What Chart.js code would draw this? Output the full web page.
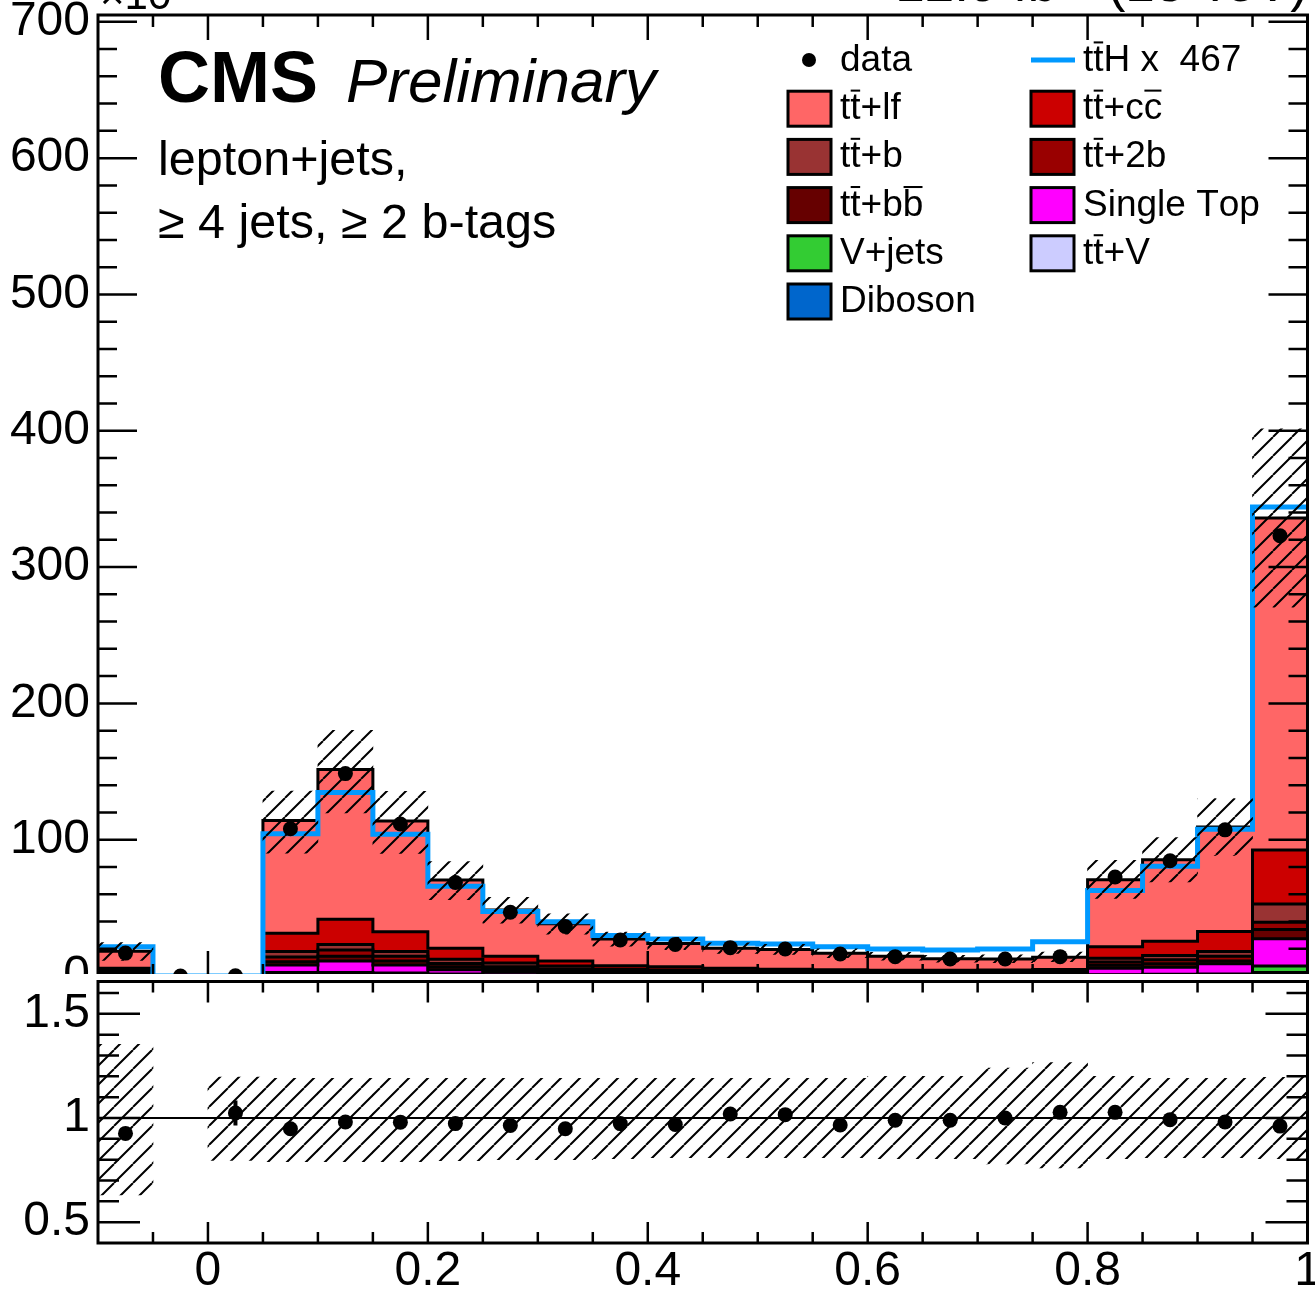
<!DOCTYPE html>
<html>
<head>
<meta charset="utf-8">
<title>CMS Preliminary - lepton+jets, 4 jets, 2 b-tags</title>
<script src="https://cdn.jsdelivr.net/npm/chart.js@4.4.1/dist/chart.umd.min.js"></script>
<style>
  html, body { margin: 0; padding: 0; background: #fff; }
  #wrap { position: relative; width: 1315px; height: 1294px; overflow: hidden; background: #fff; }
  #mainBox { position: absolute; left: 0; top: 0; width: 1315px; height: 992px; }
  #ratioBox { position: absolute; left: 0; top: 974px; width: 1315px; height: 320px; background: #fff; }
  canvas { display: block; }
</style>
</head>
<body>
<div id="wrap">
  <div id="mainBox"><canvas id="main" width="1315" height="992"></canvas></div>
  <div id="ratioBox"><canvas id="ratio" width="1315" height="320"></canvas></div>
</div>
<script>
/* ---- binning (discriminant output, 22 bins of 0.05) ---- */
var binEdges = [-0.1, -0.05, 0, 0.05, 0.1, 0.15, 0.2, 0.25, 0.3, 0.35, 0.4, 0.45,
                0.5, 0.55, 0.6, 0.65, 0.7, 0.75, 0.8, 0.85, 0.9, 0.95, 1.0];
var binCenters = [-0.075, -0.025, 0.025, 0.075, 0.125, 0.175, 0.225, 0.275, 0.325, 0.375, 0.425,
                  0.475, 0.525, 0.575, 0.625, 0.675, 0.725, 0.775, 0.825, 0.875, 0.925, 0.975];

/* ---- stacked backgrounds, bottom to top (events, x10^3) ---- */
var diboson   = [0.2, 0, 0, 0.6, 0.6, 0.5, 0.3, 0.2, 0.2, 0.1, 0.1, 0.1, 0.1, 0.1, 0.1, 0.1, 0.1, 0.1, 0.2, 0.2, 0.3, 1.0];
var ttV       = [0.3, 0, 0, 0.9, 0.9, 0.7, 0.5, 0.3, 0.2, 0.2, 0.2, 0.2, 0.1, 0.1, 0.1, 0.1, 0.1, 0.1, 0.3, 0.4, 0.5, 1.5];
var vJets     = [0.5, 0, 0, 1.0, 1.1, 1.0, 0.6, 0.4, 0.3, 0.2, 0.2, 0.1, 0.2, 0.1, 0.1, 0.1, 0.1, 0.1, 0.5, 0.6, 0.7, 4.8];
var singleTop = [1.5, 0, 0, 5.6, 8.4, 5.9, 3.2, 2.1, 1.5, 1.1, 0.9, 0.8, 0.7, 0.7, 0.6, 0.6, 0.6, 0.7, 4.6, 5.2, 7.5, 20.1];
var ttbb      = [0.5, 0, 0, 2.4, 3.5, 2.9, 2.2, 1.8, 1.4, 1.0, 0.9, 0.8, 0.7, 0.6, 0.6, 0.6, 0.6, 0.6, 2.2, 2.6, 2.0, 6.8];
var tt2b      = [0.6, 0, 0, 3.5, 4.5, 3.5, 2.4, 2.0, 1.6, 1.0, 0.9, 0.8, 0.7, 0.6, 0.6, 0.6, 0.6, 0.7, 2.4, 3.0, 3.5, 5.2];
var ttb       = [0.8, 0, 0, 3.9, 4.2, 3.4, 3.0, 2.7, 2.1, 1.3, 1.2, 1.0, 0.9, 0.8, 0.8, 0.8, 0.8, 0.8, 2.8, 3.0, 3.5, 13.4];
var ttcc      = [1.2, 0, 0.05, 13.4, 18.4, 14.6, 8.1, 5.0, 3.7, 2.7, 2.4, 1.8, 1.6, 1.5, 1.4, 1.4, 1.5, 1.7, 8.5, 10.5, 14.6, 39.7];
var ttlf      = [12.5, 0, 0.15, 82.7, 109.9, 81.3, 50.2, 34.0, 27.3, 19.5, 17.1, 14.8, 14.5, 12.2, 10.1, 8.3, 8.1, 9.0, 49.2, 59.8, 76.7, 243.5];

/* ---- signal (scaled), data, MC uncertainty band ---- */
var ttH      = [21.5, 0, 0, 104.4, 134.6, 104.0, 65.8, 47.4, 39.8, 29.8, 27.1, 24.0, 23.5, 21.5, 19.8, 19.1, 19.8, 25.2, 62.8, 80.6, 107.7, 344.0];
var dataVals = [16.8, 0, 0.2, 108.0, 148.5, 111.5, 68.6, 46.8, 36.3, 26.4, 23.2, 20.8, 19.8, 16.1, 14.2, 12.5, 12.5, 14.2, 72.6, 84.6, 107.2, 323.0];
var bandHi   = [24.5, null, 0.24, 135.7, 180.3, 135.4, 83.9, 57.7, 45.6, 32.2, 28.4, 24.3, 23.2, 19.9, 17.3, 15.1, 15.5, 17.5, 84.8, 101.5, 130.1, 401.5];
var bandLo   = [11.4, null, 0.16, 90.1, 119.7, 89.9, 56.0, 38.8, 30.6, 21.8, 19.4, 16.5, 15.8, 13.5, 11.6, 10.1, 9.8, 10.5, 56.9, 69.1, 88.5, 270.5];

/* ---- ratio panel (data / MC) ---- */
var ratioVals   = [0.926, null, 1.024, 0.948, 0.981, 0.980, 0.973, 0.964, 0.948, 0.973, 0.969, 1.019, 1.016, 0.966, 0.989, 0.989, 1.000, 1.027, 1.027, 0.992, 0.981, 0.961];
var ratioErr    = [0.03, null, 0.06, 0.01, 0.01, 0.01, 0.01, 0.01, 0.02, 0.02, 0.02, 0.02, 0.02, 0.02, 0.02, 0.02, 0.02, 0.02, 0.01, 0.01, 0.01, 0.01];
var ratioBandHi = [1.353, null, 1.196, 1.19, 1.19, 1.19, 1.19, 1.19, 1.19, 1.19, 1.19, 1.19, 1.19, 1.19, 1.20, 1.20, 1.24, 1.266, 1.20, 1.19, 1.19, 1.195];
var ratioBandLo = [0.631, null, 0.796, 0.79, 0.79, 0.79, 0.795, 0.80, 0.80, 0.805, 0.81, 0.81, 0.81, 0.81, 0.805, 0.805, 0.78, 0.76, 0.805, 0.81, 0.81, 0.805];

/* ---- axis ticks ---- */
var mainYTicks   = [0, 100, 200, 300, 400, 500, 600, 700];
var ratioYTicks  = [0.5, 1, 1.5];
var ratioYLabels = ["0.5", "1", "1.5"];
var xTicks       = [0, 0.2, 0.4, 0.6, 0.8, 1];
var xTickLabels  = ["0", "0.2", "0.4", "0.6", "0.8", "1"];

var FONT = "'Liberation Sans', Arial, Helvetica, sans-serif";
var COLORS = {
  ttlf: "#ff6666", ttcc: "#cc0000", ttb: "#993333", tt2b: "#990000", ttbb: "#660000",
  singleTop: "#ff00ff", vJets: "#33cc33", ttV: "#ccccff", diboson: "#0066cc", tth: "#0099ff"
};

// "#" marks the next character as overlined (t#t -> t tbar)
var stackSeries = [
  { label: "Diboson",    vals: diboson,   color: COLORS.diboson },
  { label: "t#t+V",      vals: ttV,       color: COLORS.ttV },
  { label: "V+jets",     vals: vJets,     color: COLORS.vJets },
  { label: "Single Top", vals: singleTop, color: COLORS.singleTop },
  { label: "t#t+b#b",    vals: ttbb,      color: COLORS.ttbb },
  { label: "t#t+2b",     vals: tt2b,      color: COLORS.tt2b },
  { label: "t#t+b",      vals: ttb,       color: COLORS.ttb },
  { label: "t#t+c#c",    vals: ttcc,      color: COLORS.ttcc },
  { label: "t#t+lf",     vals: ttlf,      color: COLORS.ttlf }
];

// ---------- helpers ----------
function stepPoints(vals) {
  return binEdges.map(function (x, i) { return { x: x, y: vals[Math.min(i, vals.length - 1)] }; });
}
function centerPoints(vals) {
  var out = [];
  binCenters.forEach(function (x, i) { if (vals[i] != null) out.push({ x: x, y: vals[i] }); });
  return out;
}
function bandBars(lo, hi) {
  var out = [];
  binCenters.forEach(function (x, i) { if (lo[i] != null) out.push({ x: x, y: [lo[i], hi[i]] }); });
  return out;
}
function hatch(ctx, size, lw) {
  var c = document.createElement("canvas");
  c.width = size; c.height = size;
  var g = c.getContext("2d");
  g.strokeStyle = "#000"; g.lineWidth = lw;
  g.beginPath();
  [-size, 0, size].forEach(function (o) { g.moveTo(o, size); g.lineTo(o + size, 0); });
  g.stroke();
  return ctx.createPattern(c, "repeat");
}
function ticksBetween(lo, hi, step) {
  var out = [], k0 = Math.ceil(lo / step - 1e-6), k1 = Math.floor(hi / step + 1e-6);
  for (var k = k0; k <= k1; k++) out.push(Math.round(k * step * 1e6) / 1e6);
  return out;
}
function isMajor(v, step) { var r = v / step; return Math.abs(r - Math.round(r)) < 1e-6; }

// text with overlined characters
function drawLabel(ctx, s, x, y, size) {
  var cx = x, i = 0;
  while (i < s.length) {
    var over = s[i] === "#";
    if (over) i++;
    var ch = s[i], w = ctx.measureText(ch).width;
    ctx.fillText(ch, cx, y);
    if (over) ctx.fillRect(cx + w * 0.04, y - size * 0.80, w * 0.92, size * 0.055);
    cx += w; i++;
  }
}

// ---------- plugins ----------
var frameTicks = {
  id: "frameTicks",
  beforeDatasetsDraw: function (chart, args, o) {
    if (o.unity == null) return;
    var ctx = chart.ctx, a = chart.chartArea, py = chart.scales.y.getPixelForValue(o.unity);
    ctx.save();
    ctx.strokeStyle = "#000"; ctx.lineWidth = 2;
    ctx.beginPath(); ctx.moveTo(a.left, py); ctx.lineTo(a.right, py); ctx.stroke();
    ctx.restore();
  },
  afterDatasetsDraw: function (chart, args, o) {
    var ctx = chart.ctx, a = chart.chartArea, xs = chart.scales.x, ys = chart.scales.y;
    ctx.save();
    ctx.strokeStyle = "#000";
    if (o.errors) {
      ctx.lineWidth = 4;
      ctx.beginPath();
      binCenters.forEach(function (x, i) {
        if (o.values[i] == null || !o.errors[i]) return;
        var px = xs.getPixelForValue(x);
        ctx.moveTo(px, ys.getPixelForValue(o.values[i] - o.errors[i]));
        ctx.lineTo(px, ys.getPixelForValue(o.values[i] + o.errors[i]));
      });
      ctx.stroke();
    }
    ctx.lineWidth = 2.5;
    ctx.beginPath();
    ticksBetween(xs.min, xs.max, o.xMinorStep).forEach(function (v) {
      if (v <= xs.min || v >= xs.max) return;
      var len = isMajor(v, o.xMajorStep) ? o.xMajorLen : o.xMinorLen, px = xs.getPixelForValue(v);
      ctx.moveTo(px, a.bottom); ctx.lineTo(px, a.bottom - len);
      ctx.moveTo(px, a.top); ctx.lineTo(px, a.top + len);
    });
    ticksBetween(ys.min, ys.max, o.yMinorStep).forEach(function (v) {
      if (v <= ys.min || v >= ys.max) return;
      var len = isMajor(v, o.yMajorStep) ? o.yMajorLen : o.yMinorLen, py = ys.getPixelForValue(v);
      ctx.moveTo(a.left, py); ctx.lineTo(a.left + len, py);
      ctx.moveTo(a.right, py); ctx.lineTo(a.right - len, py);
    });
    ctx.stroke();
    ctx.lineWidth = 3;
    ctx.strokeRect(a.left, a.top, a.right - a.left, a.bottom - a.top);
    ctx.restore();
  }
};

var legendRows = [
  [{ label: "data", kind: "dot" }, { label: "t#t+lf", color: COLORS.ttlf }, { label: "t#t+b", color: COLORS.ttb },
   { label: "t#t+b#b", color: COLORS.ttbb }, { label: "V+jets", color: COLORS.vJets }, { label: "Diboson", color: COLORS.diboson }],
  [{ label: "t#tH x  467", kind: "line" }, { label: "t#t+c#c", color: COLORS.ttcc }, { label: "t#t+2b", color: COLORS.tt2b },
   { label: "Single Top", color: COLORS.singleTop }, { label: "t#t+V", color: COLORS.ttV }]
];

var decorations = {
  id: "decorations",
  afterDraw: function (chart) {
    var ctx = chart.ctx;
    ctx.save();
    ctx.fillStyle = "#000";
    ctx.textBaseline = "alphabetic";
    ctx.textAlign = "left";
    // partly hidden header texts
    ctx.font = "42px " + FONT;
    ctx.fillText("\u00d710", 100, 9);
    ctx.font = "53px " + FONT;
    ctx.textAlign = "right";
    ctx.fillText("12.9 fb\u207b\u00b9 (13 TeV)", 1308, 1);
    ctx.textAlign = "left";

    ctx.font = "bold 72px " + FONT;
    ctx.fillText("CMS", 158, 102);
    ctx.font = "italic 62px " + FONT;
    ctx.fillText("Preliminary", 346, 102);
    ctx.font = "48.5px " + FONT;
    ctx.fillText("lepton+jets,", 158, 175);
    ctx.fillText("\u2265 4 jets, \u2265 2 b-tags", 158, 238);

    // legend
    var colX = [788, 1031], rowY0 = 60, rowH = 48.2, fs = 37;
    ctx.font = fs + "px " + FONT;
    legendRows.forEach(function (col, c) {
      col.forEach(function (e, r) {
        var x = colX[c], cy = rowY0 + r * rowH;
        if (e.kind === "dot") {
          ctx.beginPath(); ctx.arc(x + 21, cy, 7, 0, Math.PI * 2); ctx.fill();
        } else if (e.kind === "line") {
          ctx.fillStyle = COLORS.tth; ctx.fillRect(x, cy - 2.5, 44, 5); ctx.fillStyle = "#000";
        } else {
          ctx.fillStyle = e.color; ctx.fillRect(x, cy - 17, 43, 35);
          ctx.strokeStyle = "#000"; ctx.lineWidth = 3; ctx.strokeRect(x, cy - 17, 43, 35);
          ctx.fillStyle = "#000";
        }
        drawLabel(ctx, e.label, x + 52, cy + 11, fs);
      });
    });
    ctx.restore();
  }
};

// ---------- main panel ----------
var mainCtx = document.getElementById("main").getContext("2d");
var mainSets = stackSeries.map(function (s, i) {
  return {
    type: "line", label: s.label, data: stepPoints(s.vals), stack: "mc", order: 10,
    stepped: true, fill: i === 0 ? "origin" : "-1",
    backgroundColor: s.color, borderColor: "#000", borderWidth: 3, pointRadius: 0
  };
});
mainSets.push({
  type: "line", label: "t#tH x 467", data: stepPoints(ttH), stack: "sig", order: 3,
  stepped: true, fill: false, borderColor: COLORS.tth, borderWidth: 5, pointRadius: 0
});
mainSets.push({
  type: "bar", label: "MC unc.", data: bandBars(bandLo, bandHi), stack: "band", order: 2,
  backgroundColor: hatch(mainCtx, 19, 2), borderWidth: 0,
  barPercentage: 1, categoryPercentage: 1, grouped: false
});
mainSets.push({
  type: "line", label: "data", data: centerPoints(dataVals), stack: "data", order: 1,
  showLine: false, pointRadius: 7.5, pointBackgroundColor: "#000", pointBorderWidth: 0
});

new Chart(mainCtx, {
  type: "line",
  data: { datasets: mainSets },
  plugins: [frameTicks, decorations],
  options: {
    responsive: false, animation: false, devicePixelRatio: 1, events: [],
    layout: { padding: { left: 0, right: 7, top: 15, bottom: 16 } },
    plugins: {
      legend: { display: false }, tooltip: { enabled: false },
      frameTicks: { xMinorStep: 0.05, xMajorStep: 0.2, xMajorLen: 25, xMinorLen: 12,
                    yMinorStep: 20, yMajorStep: 100, yMajorLen: 39, yMinorLen: 19 }
    },
    scales: {
      x: { type: "linear", min: -0.1, max: 1.0, offset: false, display: false, grid: { offset: false } },
      y: {
        type: "linear", position: "left", stacked: true, min: 0, max: 705,
        afterBuildTicks: function (s) { s.ticks = mainYTicks.map(function (v) { return { value: v }; }); },
        afterFit: function (s) { s.width = 98; s.paddingTop = 0; s.paddingBottom = 0; },
        grid: { display: false, drawTicks: false }, border: { display: false },
        ticks: { color: "#000", font: { family: FONT, size: 48 }, padding: 8, autoSkip: false,
                 callback: function (v) { return String(v); } }
      }
    }
  }
});

// ---------- ratio panel ----------
var ratioCtx = document.getElementById("ratio").getContext("2d");
new Chart(ratioCtx, {
  type: "line",
  data: {
    datasets: [
      {
        type: "bar", label: "MC unc.", data: bandBars(ratioBandLo, ratioBandHi), order: 2,
        backgroundColor: hatch(ratioCtx, 19, 2), borderWidth: 0,
        barPercentage: 1, categoryPercentage: 1, grouped: false
      },
      {
        type: "line", label: "data/MC", data: centerPoints(ratioVals), order: 1,
        showLine: false, pointRadius: 7.5, pointBackgroundColor: "#000", pointBorderWidth: 0
      }
    ]
  },
  plugins: [frameTicks],
  options: {
    responsive: false, animation: false, devicePixelRatio: 1, events: [],
    layout: { padding: { left: 0, right: 7, top: 2, bottom: 0 } },
    plugins: {
      legend: { display: false }, tooltip: { enabled: false },
      frameTicks: { xMinorStep: 0.05, xMajorStep: 0.2, xMajorLen: 21, xMinorLen: 11,
                    yMinorStep: 0.1, yMajorStep: 0.5, yMajorLen: 42, yMinorLen: 21,
                    unity: 1, values: ratioVals, errors: ratioErr }
    },
    scales: {
      x: {
        type: "linear", min: -0.1, max: 1.0, position: "bottom", offset: false,
        afterBuildTicks: function (s) { s.ticks = xTicks.map(function (v) { return { value: v }; }); },
        afterFit: function (s) { s.height = 51; s.paddingLeft = 0; s.paddingRight = 0; },
        grid: { display: false, drawTicks: false, offset: false }, border: { display: false },
        ticks: { color: "#000", font: { family: FONT, size: 48 }, padding: 0, maxRotation: 0, autoSkip: false,
                 callback: function (v, i) { return xTickLabels[i]; } }
      },
      y: {
        type: "linear", position: "left", min: 0.4, max: 1.655,
        afterBuildTicks: function (s) { s.ticks = ratioYTicks.map(function (v) { return { value: v }; }); },
        afterFit: function (s) { s.width = 98; s.paddingTop = 0; s.paddingBottom = 0; },
        grid: { display: false, drawTicks: false }, border: { display: false },
        ticks: { color: "#000", font: { family: FONT, size: 48 }, padding: 8, autoSkip: false,
                 callback: function (v, i) { return ratioYLabels[i]; } }
      }
    }
  }
});
</script>
</body>
</html>
